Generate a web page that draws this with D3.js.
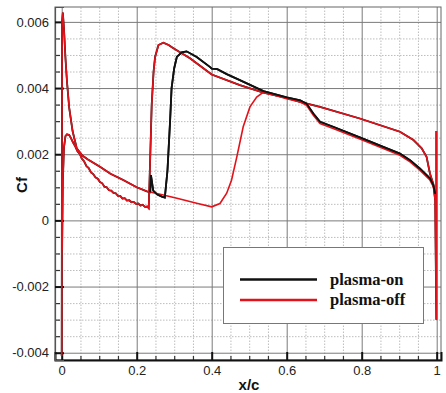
<!DOCTYPE html>
<html><head><meta charset="utf-8">
<script src="https://cdn.jsdelivr.net/npm/d3@7"></script>
<style>body{margin:0;background:#fff}svg{display:block}</style>
</head><body>
<svg id="c" width="446" height="393"></svg>
<script>
// ---- data (x/c, Cf) ----
const xTicks = [0, 0.2, 0.4, 0.6, 0.8, 1];
const xTickLabels = ["0", "0.2", "0.4", "0.6", "0.8", "1"];
const yTicks = [-0.004, -0.002, 0, 0.002, 0.004, 0.006];
const yTickLabels = ["-0.004", "-0.002", "0", "0.002", "0.004", "0.006"];
const seriesNames = ["plasma-on", "plasma-off"];

// lower surface (same for both cases)
const lowerSurface = [
 [0.001,-0.0009],[0.003,0.0012],[0.006,0.0022],[0.010,0.00255],[0.014,0.0026],[0.020,0.00258],
 [0.025,0.00248],[0.030,0.00236],[0.036,0.00224],[0.042,0.00209],[0.048,0.00201],[0.054,0.00186],
 [0.060,0.00178],[0.066,0.00164],[0.072,0.00158],[0.078,0.00145],[0.084,0.00140],[0.090,0.00130],
 [0.096,0.00126],[0.102,0.00116],[0.108,0.00112],[0.114,0.00102],[0.120,0.00100],[0.126,0.00091],
 [0.132,0.00090],[0.138,0.00083],[0.144,0.00082],[0.150,0.00074],[0.156,0.00074],[0.162,0.00066],
 [0.168,0.00067],[0.174,0.00060],[0.180,0.00061],[0.186,0.00055],[0.192,0.00056],[0.198,0.00050],
 [0.204,0.00051],[0.210,0.00045],[0.216,0.00047],[0.222,0.00041],[0.228,0.00042],[0.232,0.00037],
 [0.235,0.0015],[0.240,0.0035],[0.245,0.0045],[0.249,0.00494],[0.258,0.0053],[0.271,0.00537],
 [0.285,0.00530],[0.298,0.00520],[0.342,0.00490],[0.400,0.00441],[0.475,0.00409],[0.538,0.00386],
 [0.600,0.00370],[0.636,0.00358],[0.689,0.00343],[0.795,0.00308],[0.902,0.00268],[0.938,0.00243],
 [0.960,0.00218],[0.973,0.00192],[0.982,0.00142],[0.991,0.00110],[0.996,0.00060],
 [0.999,-0.0030],[0.999,0.0027]
];

// upper surface, plasma-off
const upperOff = [
 [0.000,-0.0041],[0.001,0.0060],[0.003,0.00628],[0.006,0.0058],[0.010,0.0049],[0.014,0.0042],
 [0.020,0.0034],[0.029,0.0027],[0.040,0.00218],[0.055,0.00196],[0.070,0.00184],[0.102,0.00162],
 [0.130,0.00141],[0.164,0.00122],[0.200,0.00100],[0.227,0.00088],[0.271,0.00077],[0.310,0.00066],
 [0.360,0.00052],[0.400,0.00041],[0.422,0.00051],[0.440,0.00082],[0.453,0.00122],[0.467,0.00192],
 [0.484,0.00283],[0.502,0.00343],[0.520,0.00373],[0.538,0.00388],[0.600,0.00368],[0.636,0.00358],
 [0.653,0.00348],[0.671,0.00318],[0.689,0.00293],[0.724,0.00278],[0.795,0.00246],[0.902,0.00197],
 [0.929,0.00177],[0.955,0.00152],[0.982,0.00122],[0.991,0.00102],[0.996,0.00070]
];

// upper surface, plasma-on
const upperOn = [
 [0.000,-0.0041],[0.001,0.0060],[0.003,0.00628],[0.006,0.0058],[0.010,0.0049],[0.014,0.0042],
 [0.020,0.0034],[0.029,0.0027],[0.040,0.00218],[0.055,0.00196],[0.070,0.00184],[0.102,0.00162],
 [0.130,0.00141],[0.164,0.00122],[0.200,0.00100],[0.227,0.00088],[0.236,0.00085],[0.238,0.00137],
 [0.244,0.00090],[0.255,0.00078],[0.267,0.00072],[0.275,0.00069],[0.282,0.00150],[0.289,0.00300],
 [0.293,0.00400],[0.300,0.00460],[0.307,0.00494],[0.320,0.00508],[0.333,0.00511],[0.360,0.00494],
 [0.395,0.00464],[0.400,0.00459],[0.415,0.00457],[0.440,0.00442],[0.475,0.00424],[0.538,0.00391],
 [0.600,0.00372],[0.636,0.00363],[0.653,0.00353],[0.671,0.00323],[0.689,0.00298],[0.724,0.00283],
 [0.795,0.00251],[0.902,0.00202],[0.929,0.00182],[0.955,0.00157],[0.982,0.00127],[0.991,0.00107],
 [0.996,0.00080]
];

// ---- layout ----
const W = 446, H = 393;
const m = {left: 55, top: 7, right: 5, bottom: 33};
const iw = W - m.left - m.right, ih = H - m.top - m.bottom;
const x = d3.scaleLinear().domain([-0.0179, 1.0115]).range([0, iw]);
const y = d3.scaleLinear().domain([-0.00422, 0.00645]).range([ih, 0]);
const RED = "#e3121a", BLACK = "#111";

const svg = d3.select("#c");
const g = svg.append("g").attr("transform", `translate(${m.left},${m.top})`);

// minor grid
const xMinor = d3.range(0, 1.0001, 0.05).filter(v => Math.abs(v*5 - Math.round(v*5)) > 1e-6);
const yMinor = d3.range(-0.004, 0.0064, 0.0005).filter(v => Math.abs(v/0.002 - Math.round(v/0.002)) > 1e-6);
g.append("g").attr("class","gridMinor").call(d3.axisBottom(x).tickValues(xMinor).tickSize(-ih).tickFormat(""))
 .attr("transform", `translate(0,${ih})`)
 .call(s => { s.select(".domain").remove(); s.selectAll("line").attr("stroke","#bdbdbd").attr("stroke-dasharray","1.5,1.5"); });
g.append("g").call(d3.axisLeft(y).tickValues(yMinor).tickSize(-iw).tickFormat(""))
 .call(s => { s.select(".domain").remove(); s.selectAll("line").attr("stroke","#bdbdbd").attr("stroke-dasharray","1.5,1.5"); });
// major grid
g.append("g").attr("transform", `translate(0,${ih})`).call(d3.axisBottom(x).tickValues(xTicks).tickSize(-ih).tickFormat(""))
 .call(s => { s.select(".domain").remove(); s.selectAll("line").attr("stroke","#7a7a7a").attr("stroke-width",1); });
g.append("g").call(d3.axisLeft(y).tickValues(yTicks).tickSize(-iw).tickFormat(""))
 .call(s => { s.select(".domain").remove(); s.selectAll("line").attr("stroke","#7a7a7a").attr("stroke-width",1); });

// frame
g.append("rect").attr("width", iw).attr("height", ih).attr("fill","none").attr("stroke","#666").attr("stroke-width",1);

// inward ticks
g.append("g").attr("transform", `translate(0,${ih})`).call(d3.axisBottom(x).tickValues(xMinor).tickSize(-4).tickFormat(""))
 .call(s => { s.select(".domain").remove(); s.selectAll("line").attr("stroke","#333").attr("stroke-width",1.2); });
g.append("g").call(d3.axisLeft(y).tickValues(yMinor).tickSize(-5).tickFormat(""))
 .call(s => { s.select(".domain").remove(); s.selectAll("line").attr("stroke","#333").attr("stroke-width",1.2); });

// bottom axis with labels
g.append("g").attr("transform", `translate(0,${ih})`)
 .call(d3.axisBottom(x).tickValues(xTicks).tickSize(-8).tickPadding(6).tickFormat((d,i)=>xTickLabels[i]))
 .call(s => {
   s.select(".domain").attr("stroke","#111").attr("stroke-width",2);
   s.selectAll("line").attr("stroke","#111").attr("stroke-width",2);
   s.selectAll("text").attr("font-family","'Liberation Sans',Arial,sans-serif").attr("font-size",13).attr("fill","#222");
 });
// left axis with labels
g.append("g")
 .call(d3.axisLeft(y).tickValues(yTicks).tickSize(-9).tickPadding(6).tickFormat((d,i)=>yTickLabels[i]))
 .call(s => {
   s.select(".domain").attr("stroke","#555").attr("stroke-width",1.2);
   s.selectAll("line").attr("stroke","#111").attr("stroke-width",2);
   s.selectAll("text").attr("font-family","'Liberation Sans',Arial,sans-serif").attr("font-size",13).attr("fill","#222");
 });

// curves
const line = d3.line().x(d => x(d[0])).y(d => y(d[1]));
const clip = g.append("clipPath").attr("id","clp").append("rect").attr("width", iw).attr("height", ih);
const curves = g.append("g").attr("clip-path","url(#clp)");
curves.append("path").datum(lowerSurface).attr("d", line).attr("fill","none").attr("stroke",BLACK).attr("stroke-width",1.8);
curves.append("path").datum(upperOn).attr("d", line).attr("fill","none").attr("stroke",BLACK).attr("stroke-width",1.8);
curves.append("path").datum(upperOff).attr("d", line).attr("fill","none").attr("stroke",RED).attr("stroke-width",1.6);
curves.append("path").datum(lowerSurface).attr("d", line).attr("fill","none").attr("stroke",RED).attr("stroke-width",1.6);
// redraw the black part after the jump so it stays visible
curves.append("path").datum(upperOn.filter(d => d[0] >= 0.236)).attr("d", line).attr("fill","none").attr("stroke",BLACK).attr("stroke-width",1.8);

// axis titles
svg.append("text").attr("x", 249).attr("y", 390).attr("text-anchor","middle")
 .attr("font-family","'Liberation Sans',Arial,sans-serif").attr("font-weight","bold").attr("font-size",15).attr("fill","#111").text("x/c");
svg.append("text").attr("transform","translate(27,185) rotate(-90)").attr("text-anchor","middle")
 .attr("font-family","'Liberation Sans',Arial,sans-serif").attr("font-weight","bold").attr("font-size",15).attr("fill","#111").text("Cf");

// legend
const lg = svg.append("g");
lg.append("rect").attr("x",223.5).attr("y",247.5).attr("width",200).attr("height",76).attr("fill","#fff").attr("stroke","#777").attr("stroke-width",1);
[BLACK, RED].forEach((c,i) => {
  const yy = 279.5 + i*20.5;
  lg.append("line").attr("x1",240).attr("x2",317).attr("y1",yy).attr("y2",yy).attr("stroke",c).attr("stroke-width",2.5);
  lg.append("text").attr("x",330).attr("y",yy+5).attr("font-family","'Liberation Serif','Times New Roman',serif")
    .attr("font-weight","bold").attr("font-size",16.5).attr("fill","#111").text(seriesNames[i]);
});
</script>
</body></html>
